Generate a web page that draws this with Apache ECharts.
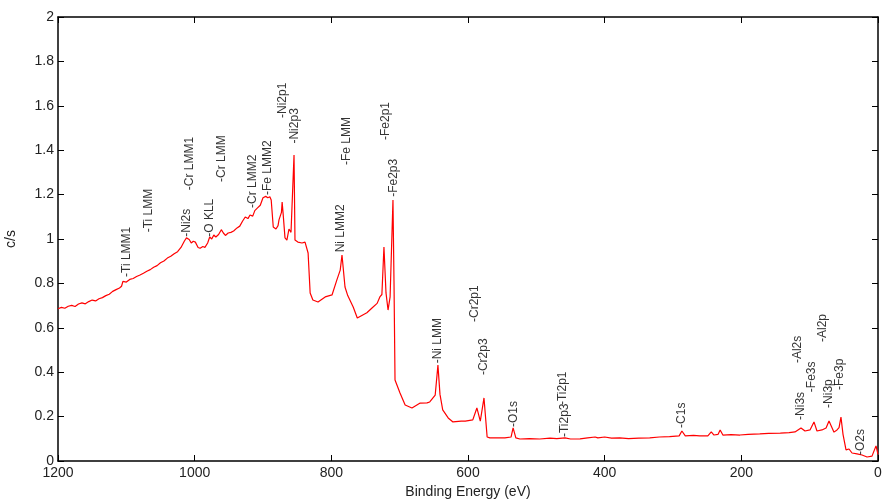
<!DOCTYPE html>
<html>
<head>
<meta charset="utf-8">
<script src="https://cdn.jsdelivr.net/npm/echarts@6/dist/echarts.min.js"></script>
<style>
  html, body { margin: 0; padding: 0; background: #fff; }
  #chart { width: 885px; height: 503px; }
</style>
</head>
<body>
<div id="chart"></div>
<script>
  // survey spectrum, binding energy (eV) vs c/s
  var energy = [1200, 1195, 1190, 1185, 1180, 1175, 1170, 1165, 1160, 1155, 1150, 1145, 1140, 1135, 1130, 1125, 1120, 1115, 1110, 1107,
    1105, 1100, 1095, 1090, 1085, 1080, 1075, 1070, 1065, 1060, 1055, 1050, 1045, 1040, 1035, 1030, 1025, 1020, 1015, 1012,
    1008, 1005, 1002, 999, 995, 992, 988, 985, 981, 978, 975, 972, 969, 965, 961, 958, 955, 951, 947, 943,
    938, 934, 930, 926, 922, 919, 915, 912, 908, 904, 900, 896, 893, 890, 888, 885, 881, 878, 876.6, 873,
    872, 870.7, 867.8, 865, 862, 859, 857.6, 854.6, 853.2, 849, 843, 838.5, 834, 831, 827, 819.5, 809, 799, 792, 787,
    784.4, 780, 776, 768, 762, 754, 748, 740.5, 733, 729, 726, 723, 720, 717, 714, 711.2, 709.8, 708.3, 706.8, 699.5,
    692, 682, 670, 660, 656, 648, 644, 641, 637, 629, 622, 610, 604, 593, 587, 582, 576.6, 572, 568, 546,
    537, 534, 530, 524, 510, 495, 480, 470, 458, 450, 436, 425, 414, 410, 400, 390, 378, 365, 350, 334,
    320, 305, 291, 287, 282, 270, 261, 249, 244, 240, 234, 231, 227, 215, 202, 190, 173, 160, 143, 130,
    121.5, 112.7, 106.8, 99.5, 93.7, 89.3, 82, 76, 71.7, 68.8, 64.4, 60, 57, 54.2, 51.2, 46.8, 42.4, 38, 30.7, 23.4,
    16, 8.8, 2.9, 0];
  var counts = [0.686, 0.692, 0.688, 0.697, 0.701, 0.696, 0.707, 0.712, 0.708, 0.718, 0.725, 0.721, 0.731, 0.736, 0.745, 0.751, 0.764, 0.772, 0.779, 0.787,
    0.809, 0.806, 0.818, 0.822, 0.831, 0.838, 0.846, 0.855, 0.862, 0.873, 0.880, 0.893, 0.901, 0.914, 0.922, 0.934, 0.943, 0.962, 0.991, 1.005,
    0.998, 0.982, 0.990, 0.986, 0.962, 0.958, 0.966, 0.962, 0.982, 1.009, 1.000, 1.018, 1.009, 1.020, 1.042, 1.027, 1.016, 1.027, 1.030, 1.036,
    1.050, 1.058, 1.080, 1.099, 1.092, 1.108, 1.103, 1.128, 1.140, 1.152, 1.186, 1.192, 1.186, 1.190, 1.176, 1.054, 1.045, 1.060, 1.086, 1.120,
    1.167, 1.120, 1.005, 0.995, 1.045, 1.030, 1.027, 1.378, 0.995, 0.986, 0.982, 0.986, 0.937, 0.757, 0.725, 0.716, 0.739, 0.748, 0.815, 0.860,
    0.928, 0.784, 0.745, 0.694, 0.644, 0.658, 0.668, 0.689, 0.710, 0.739, 0.750, 0.964, 0.757, 0.680, 0.739, 0.748, 1.176, 0.810, 0.365, 0.306,
    0.252, 0.239, 0.261, 0.262, 0.266, 0.297, 0.432, 0.300, 0.230, 0.194, 0.176, 0.180, 0.180, 0.185, 0.239, 0.180, 0.284, 0.108, 0.104, 0.104,
    0.108, 0.149, 0.104, 0.099, 0.101, 0.099, 0.103, 0.101, 0.104, 0.099, 0.100, 0.104, 0.108, 0.104, 0.108, 0.103, 0.104, 0.101, 0.103, 0.104,
    0.108, 0.110, 0.113, 0.135, 0.113, 0.115, 0.113, 0.113, 0.131, 0.117, 0.120, 0.140, 0.117, 0.119, 0.117, 0.120, 0.122, 0.124, 0.126, 0.128,
    0.131, 0.149, 0.135, 0.140, 0.176, 0.135, 0.140, 0.149, 0.180, 0.185, 0.130, 0.140, 0.150, 0.198, 0.120, 0.050, 0.054, 0.036, 0.032, 0.027,
    0.018, 0.022, 0.068, 0.030];

  // peak annotations: name, energy, height of the label foot
  var peakNames = ['-Ti LMM1', '-Ti LMM', '-Ni2s', '-Cr LMM1', '-O KLL', '-Cr LMM', '-Cr LMM2', '-Fe LMM2', '-Ni2p1', '-Ni2p3',
    '-Fe LMM', 'Ni LMM2', '-Fe2p1', '-Fe2p3', '-Ni LMM', '-Cr2p1', '-Cr2p3', '-O1s', '-Ti2p3', '-Ti2p1',
    '-C1s', '-Ni3s', '-Al2s', '-Fe3s', '-Al2p', '-Ni3p', '-Fe3p', '-O2s'];
  var peakEnergy = [1099, 1068, 1011, 1008, 978, 960, 915, 893, 871, 853,
    778, 786, 720, 709, 644, 590, 577, 533, 459, 462,
    287, 113, 118, 97, 81, 72, 56, 26];
  var peakBase = [0.829, 1.03, 1.01, 1.22, 1.01, 1.257, 1.14, 1.198, 1.545, 1.43,
    1.333, 0.94, 1.446, 1.19, 0.44, 0.626, 0.387, 0.153, 0.108, 0.252,
    0.149, 0.185, 0.441, 0.31, 0.536, 0.239, 0.32, 0.027];

  var spectrum = energy.map(function (e, i) { return [e, counts[i]]; });
  var peaks = peakNames.map(function (n, i) { return { name: n, value: [peakEnergy[i], peakBase[i]] }; });

  var axisLine = { onZero: false, lineStyle: { color: '#000', width: 1.5 } };
  var tick = { inside: true, length: 6, lineStyle: { color: '#000', width: 1 } };

  var chart = echarts.init(document.getElementById('chart'));
  var option = {
    animation: false,
    textStyle: { fontFamily: 'Liberation Sans, Arial, sans-serif' },
    grid: { left: 58, right: 7, top: 17, bottom: 42, outerBoundsMode: 'none' },
    xAxis: [
      {
        type: 'value', min: 0, max: 1200, interval: 200, inverse: true, position: 'bottom',
        name: 'Binding Energy (eV)', nameLocation: 'middle', nameGap: 24,
        nameTextStyle: { fontSize: 14, color: '#222' },
        axisLine: axisLine, axisTick: tick, splitLine: { show: false },
        axisLabel: { fontSize: 14, color: '#222', margin: 5, formatter: function (v) { return String(v); } }
      },
      {
        type: 'value', min: 0, max: 1200, interval: 200, inverse: true, position: 'top',
        axisLine: axisLine, axisTick: tick, splitLine: { show: false },
        axisLabel: { show: false }
      }
    ],
    yAxis: [
      {
        type: 'value', min: 0, max: 2, interval: 0.2, position: 'left',
        name: 'c/s', nameLocation: 'middle', nameGap: 40,
        nameTextStyle: { fontSize: 14, color: '#222' },
        axisLine: axisLine, axisTick: tick, splitLine: { show: false },
        axisLabel: { fontSize: 14, color: '#222', margin: 4 }
      },
      {
        type: 'value', min: 0, max: 2, interval: 0.2, position: 'right',
        axisLine: axisLine, axisTick: tick, splitLine: { show: false },
        axisLabel: { show: false }
      }
    ],
    series: [
      {
        type: 'line',
        data: spectrum,
        showSymbol: false,
        lineStyle: { color: '#ff0000', width: 1.2 },
        z: 2
      },
      {
        type: 'scatter',
        data: peaks,
        symbolSize: 1,
        itemStyle: { color: 'rgba(0,0,0,0)' },
        label: {
          show: true,
          position: 'inside',
          rotate: 90,
          align: 'left',
          verticalAlign: 'middle',
          fontSize: 12,
          color: '#000',
          formatter: function (p) { return p.name; }
        },
        z: 3
      }
    ]
  };
  chart.setOption(option);
</script>
</body>
</html>
